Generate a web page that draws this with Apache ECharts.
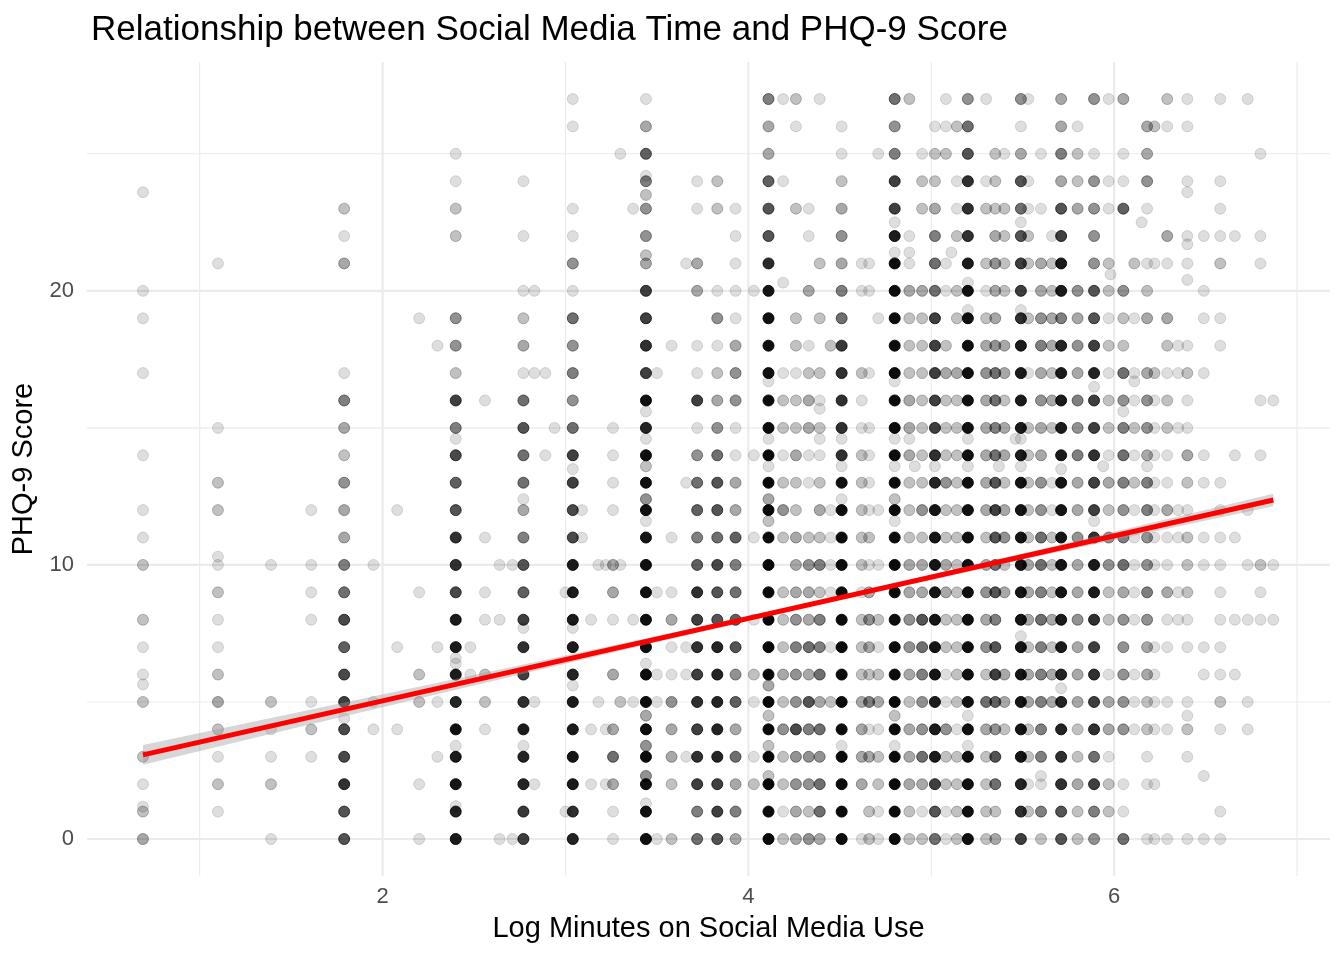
<!DOCTYPE html>
<html>
<head>
<meta charset="utf-8">
<script src="https://cdn.jsdelivr.net/npm/echarts@6/dist/echarts.min.js"></script>
<style>
html, body { margin: 0; padding: 0; background: #fff; }
#chart { width: 1344px; height: 960px; }
</style>
</head>
<body>
<div id="chart"></div>
<script>
// x = log minutes of social media use, columns of PHQ-9 counts (index = score 0..27)
var colX = [0.69, 1.10, 1.79, 2.40, 2.77, 3.04, 3.26, 3.44, 3.58, 3.72, 3.83, 3.93,
    4.11, 4.19, 4.26, 4.33, 4.39, 4.51, 4.62, 4.66, 4.71, 4.80, 4.88, 4.95, 5.02,
    5.08, 5.14, 5.20, 5.30, 5.35, 5.40, 5.49, 5.53, 5.60, 5.66, 5.71, 5.80, 5.89,
    5.97, 6.05, 6.11, 6.18, 6.22, 6.29, 6.40, 6.58];

var colCounts = [
    [3,2,1,2,0,2,1,1,2,0,2,1,1,0,1,0,0,1,0,1,1,0,0,0,0,0,0,0],              // 0.69
    [0,1,2,1,2,3,2,1,1,2,1,0,2,2,0,1,0,0,0,0,0,1,0,0,0,0,0,0],              // 1.10
    [8,8,12,9,9,10,9,7,9,6,5,3,3,4,2,3,5,1,0,0,0,3,1,2,0,0,0,0],            // 1.79
    [16,14,18,16,20,14,16,16,16,9,12,12,8,7,9,5,10,2,4,4,0,0,2,2,1,1,0,0],  // 2.40
    [10,11,14,14,16,12,10,12,10,7,8,5,3,6,6,8,6,1,3,2,1,0,1,0,1,0,0,0],     // 2.77
    [14,12,16,18,16,16,14,16,16,16,16,9,9,10,10,6,4,5,4,6,1,4,1,1,0,0,1,1], // 3.04
    [1,1,3,6,3,0,3,0,1,3,3,0,1,1,1,1,0,0,0,0,0,0,0,0,0,0,0,0],              // 3.26
    [20,20,20,22,22,22,22,20,20,20,20,18,20,20,20,14,20,10,12,10,10,3,4,4,5,7,3,1], // 3.44
    [2,0,2,3,3,4,1,1,3,1,0,1,0,0,0,0,0,0,1,0,0,0,0,0,0,0,0,0],              // 3.58
    [6,5,10,12,10,12,10,12,10,12,7,5,7,6,4,1,10,1,1,0,3,3,0,1,1,0,0,0],     // 3.72
    [8,10,10,14,14,14,14,14,8,8,9,6,8,8,6,4,3,2,1,4,1,0,0,2,2,0,0,0],       // 3.83
    [3,5,3,6,3,7,4,8,7,6,5,7,3,3,1,1,4,4,3,1,1,1,1,1,0,0,0,0],              // 3.93
    [22,22,24,24,24,24,24,24,24,24,24,24,24,24,22,22,22,20,20,20,18,13,8,8,7,3,3,5], // 4.11
    [2,1,2,2,4,2,3,2,2,2,0,2,4,2,1,2,2,1,0,0,0,0,0,0,1,0,0,1],              // 4.19
    [3,3,4,4,9,4,4,5,4,3,3,3,2,2,3,2,2,1,2,2,0,0,0,2,0,0,1,2],              // 4.26
    [4,2,4,4,5,8,3,6,3,3,4,2,0,1,1,3,3,2,1,0,3,0,1,1,0,0,0,0],              // 4.33
    [3,6,6,4,6,3,6,5,5,2,5,2,3,2,1,2,1,2,0,2,0,2,0,0,0,0,0,1],              // 4.39
    [22,22,22,22,22,22,22,22,22,22,22,22,22,20,12,12,12,12,11,6,5,3,4,3,2,1,1,0], // 4.51
    [1,0,3,3,3,3,2,2,2,1,2,2,2,2,2,1,1,2,0,0,1,1,0,0,0,0,0,0],              // 4.62
    [2,2,0,3,1,5,2,3,4,3,1,2,1,1,1,1,0,1,0,0,1,1,0,0,0,0,0,0],              // 4.66
    [1,1,2,2,1,3,2,1,2,0,1,0,1,0,0,0,0,0,0,1,0,0,0,0,0,1,0,0],              // 4.71
    [22,22,22,22,22,22,22,22,22,22,22,22,22,22,22,22,22,22,22,22,22,22,16,10,10,5,4,6], // 4.80
    [2,2,3,3,3,2,3,4,4,3,3,2,2,2,3,3,3,2,2,2,3,1,1,0,0,0,0,2],              // 4.88
    [2,1,3,6,4,4,5,6,8,3,3,2,4,2,2,2,2,2,2,2,3,0,0,2,2,1,0,0],              // 4.95
    [6,8,10,16,16,16,18,18,18,18,18,18,18,14,12,10,10,10,10,10,6,6,5,3,2,2,1,0], // 5.02
    [1,1,2,2,4,1,1,2,2,3,3,2,2,4,2,2,2,3,2,0,1,1,0,0,0,2,1,1],              // 5.08
    [2,2,2,2,1,2,2,2,2,2,2,2,2,2,2,2,2,3,0,2,2,0,2,1,1,0,2,0],              // 5.14
    [20,20,20,20,20,20,20,20,20,20,20,20,20,20,20,20,20,20,20,20,20,16,12,12,12,8,6,4], // 5.20
    [2,2,2,2,3,6,2,4,3,4,3,2,3,3,3,3,3,4,3,2,1,2,0,2,1,0,0,1],              // 5.30
    [3,2,6,8,4,7,10,8,5,8,6,8,10,8,6,5,6,6,4,3,3,4,3,2,2,2,0,0],            // 5.35
    [0,0,0,0,2,3,3,0,0,3,2,4,3,2,3,3,2,3,3,0,2,2,2,2,0,1,0,0],              // 5.40
    [10,12,14,18,18,18,18,18,18,18,18,18,18,18,16,16,16,16,16,12,10,10,8,6,8,3,1,4], // 5.49
    [0,2,1,2,2,3,3,2,3,3,3,2,2,2,2,2,0,1,0,2,0,2,2,1,1,0,0,1],              // 5.53
    [2,5,1,5,5,5,5,5,6,5,6,6,4,4,3,3,4,3,5,4,3,3,0,1,0,1,0,0],              // 5.60
    [0,0,0,0,0,3,3,2,3,2,2,2,1,1,0,2,3,2,3,3,2,2,1,0,0,0,0,0],              // 5.66
    [8,8,12,12,14,14,14,16,16,18,18,18,18,18,16,16,16,16,14,5,16,16,10,8,3,5,3,3], // 5.71
    [2,2,3,2,2,3,3,3,4,3,3,4,3,3,5,4,5,3,4,3,4,0,0,3,2,2,1,0],              // 5.80
    [4,5,10,6,12,10,12,10,12,16,16,12,10,10,12,10,10,14,10,8,8,4,4,4,4,1,0,4], // 5.89
    [0,2,2,1,3,3,1,0,2,2,4,4,2,3,1,2,2,1,2,1,2,2,0,1,1,0,0,1],              // 5.97
    [6,1,1,0,4,4,4,4,4,3,6,5,4,5,6,5,4,6,2,2,4,0,0,7,1,1,0,3],              // 6.05
    [0,0,0,0,1,1,1,0,1,1,1,1,1,2,1,2,1,1,0,1,0,2,0,0,0,0,0,0],              // 6.11
    [1,0,1,1,2,2,3,3,4,5,4,4,5,5,3,4,4,3,0,3,2,1,0,1,4,3,3,0],              // 6.18
    [1,0,1,0,1,1,1,1,0,0,1,1,1,1,1,1,1,2,0,0,0,1,0,0,0,0,2,0],              // 6.22
    [1,0,0,0,1,1,0,1,1,3,1,1,3,1,1,2,2,1,2,3,0,1,3,0,0,0,1,2],              // 6.29
    [1,0,0,1,2,1,0,1,1,2,2,2,1,2,3,1,1,2,1,0,0,1,1,0,1,0,1,1],              // 6.40
    [1,1,0,0,1,2,1,1,1,1,1,1,1,1,0,0,0,0,1,1,0,2,1,1,1,0,0,1]               // 6.58
];

// sparse points: [log minutes, PHQ-9, how many overlap]
var sparsePts = [
    [1.39,0,1],[1.39,2,2],[1.39,3,1],[1.39,4,1],[1.39,5,2],[1.39,10,1],
    [1.61,3,1],[1.61,4,2],[1.61,5,1],[1.61,8,1],[1.61,9,1],[1.61,10,1],[1.61,12,1],
    [1.95,4,1],[1.95,5,1],[1.95,10,1],
    [2.08,4,1],[2.08,7,1],[2.08,12,1],
    [2.20,0,1],[2.20,2,1],[2.20,5,2],[2.20,6,2],[2.20,9,1],[2.20,19,1],
    [2.30,3,1],[2.30,5,1],[2.30,7,1],[2.30,18,1],
    [2.48,6,1],[2.48,7,1],
    [2.56,4,1],[2.56,5,2],[2.56,6,2],[2.56,8,1],[2.56,9,1],[2.56,11,1],[2.56,16,1],
    [2.64,0,1],[2.64,8,1],[2.64,10,1],
    [2.71,0,1],[2.71,10,1],
    [2.83,2,1],[2.83,5,1],[2.83,17,1],[2.83,20,1],
    [2.89,14,1],[2.89,17,1],[2.94,15,1],[3.00,1,1],[3.00,9,1],
    [3.09,11,1],[3.09,12,1],[3.14,2,1],[3.14,4,1],[3.14,8,1],
    [3.18,5,1],[3.18,10,1],[3.22,2,1],[3.22,4,1],[3.22,10,1],
    [3.30,5,2],[3.30,10,1],[3.30,25,1],[3.37,5,1],[3.37,8,1],[3.37,23,1],
    [3.50,0,1],[3.50,5,1],[3.50,6,1],[3.50,9,1],[3.50,17,1],
    [3.66,3,1],[3.66,6,1],[3.66,7,1],[3.66,13,1],[3.66,21,1],
    [4.03,2,2],[4.03,3,1],[4.03,5,1],[4.03,6,2],[4.03,8,1],[4.03,11,1],[4.03,14,1],[4.03,20,1],
    [4.45,5,2],[4.45,7,1],[4.45,9,1],[4.45,10,1],[4.45,11,1],[4.45,12,1],[4.45,18,2],
    [6.35,8,1],[6.35,9,1],[6.35,11,1],[6.35,12,1],[6.35,15,1],[6.35,17,1],[6.35,18,1],
    [6.49,0,1],[6.49,6,1],[6.49,7,1],[6.49,10,1],[6.49,11,1],[6.49,13,1],[6.49,14,1],
    [6.49,17,1],[6.49,19,1],[6.49,20,1],[6.49,22,1],
    [6.66,6,1],[6.66,8,1],[6.66,11,1],[6.66,14,1],[6.66,22,1],
    [6.73,4,1],[6.73,5,1],[6.73,8,1],[6.73,10,1],[6.73,12,1],[6.73,27,1],
    [6.80,8,1],[6.80,9,1],[6.80,10,2],[6.80,14,1],[6.80,16,1],[6.80,21,1],[6.80,22,1],[6.80,25,1],
    [6.87,8,1],[6.87,10,1],[6.87,16,1]
];

// scores that are not whole numbers
var oddPts = [
    [0.69,23.6,1],[0.69,5.64,1],[0.69,1.18,1],[1.10,10.3,1],[1.79,4.4,1],
    [2.40,14.6,1],[2.40,6.6,1],[2.40,6.4,1],[2.40,3.4,1],[2.40,1.2,1],
    [2.77,12.4,1],[2.77,7.7,1],[2.77,3.4,1],[3.04,13.5,1],[3.04,7.7,1],[3.04,5.6,1],
    [3.44,24.2,1],[3.44,23.5,2],[3.44,21.3,2],[3.44,15.6,1],[3.44,14.6,1],[3.44,13.6,2],
    [3.44,12.4,4],[3.44,11.6,1],[3.44,6.4,1],[3.44,4.5,3],[3.44,3.4,4],[3.44,2.3,4],[3.44,1.3,1],
    [4.11,16.7,1],[4.11,14.6,1],[4.11,13.6,1],[4.11,12.4,3],[4.11,11.6,2],[4.11,5.6,3],
    [4.11,4.5,2],[4.11,3.4,2],[4.11,2.3,2],[4.19,20.3,1],[4.39,15.7,1],[4.39,14.6,1],
    [4.51,14.6,1],[4.51,13.6,1],[4.51,12.4,1],[4.51,3.4,1],
    [4.80,22.5,1],[4.80,21.4,1],[4.80,16.7,1],[4.80,14.6,1],[4.80,13.6,1],[4.80,12.4,2],
    [4.80,11.6,1],[4.80,4.5,2],[4.80,3.4,1],[4.88,21.4,1],[4.88,14.6,1],[4.91,13.6,1],
    [5.02,13.6,1],[5.11,21.4,1],[5.20,20.3,1],[5.20,19.3,1],[5.20,14.6,1],[5.20,13.6,1],
    [5.20,4.5,1],[5.20,3.4,1],[5.37,13.6,1],[5.46,14.6,1],[5.49,22.5,1],[5.49,19.3,1],
    [5.49,14.6,1],[5.49,13.6,1],[5.49,7.4,1],[5.60,2.3,1],[5.71,13.5,1],[5.71,5.5,1],
    [5.89,16.5,1],[5.89,11.6,1],[5.94,13.6,1],[5.98,20.6,1],[6.05,15.6,1],[6.11,16.7,1],
    [6.15,22.5,1],[6.18,13.6,1],[6.40,23.6,1],[6.40,21.7,1],[6.40,20.4,1],[6.40,4.5,1],[6.49,2.3,1]
];

// fitted line and its confidence band
var fitX = [0.69, 6.87];
var fitY = [3.07, 12.37];
var bandX = [0.69, 1.5, 2.5, 3.5, 4.5, 5.5, 6.2, 6.87];
var bandLo = [2.71, 4.01, 5.60, 7.19, 8.73, 10.20, 11.19, 12.14];
var bandHi = [3.43, 4.57, 5.98, 7.41, 8.87, 10.42, 11.53, 12.60];

var xLabels = [2, 4, 6];
var yLabels = [0, 10, 20];
var xGrid = [1, 2, 3, 4, 5, 6, 7];
var yGrid = [0, 5, 10, 15, 20, 25];

var FONT = "'Liberation Sans', Arial, Helvetica, sans-serif";
var pointAlpha = 0.13;

var chart = echarts.init(document.getElementById('chart'), null, { renderer: 'canvas' });

var pts = [];
function addPt(x, y, n) {
    if (!n) return;
    pts.push({
        value: [x, y],
        itemStyle: { opacity: 1 - Math.pow(1 - pointAlpha, n) }
    });
}
for (var i = 0; i < colX.length; i++) {
    for (var y = 0; y < colCounts[i].length; y++) {
        addPt(colX[i], y, colCounts[i][y]);
    }
}
sparsePts.forEach(function (p) { addPt(p[0], p[1], p[2]); });
oddPts.forEach(function (p) { addPt(p[0], p[1], p[2]); });

var fitData = [];
for (var k = 0; k < fitX.length; k++) fitData.push([fitX[k], fitY[k]]);

function renderGridV(params, api) {
    var cs = params.coordSys;
    var v = api.value(0);
    var px = api.coord([v, 0])[0];
    var major = xLabels.indexOf(v) >= 0;
    return {
        type: 'line',
        shape: { x1: px, y1: cs.y, x2: px, y2: cs.y + cs.height },
        style: { stroke: '#ebebeb', lineWidth: major ? 2.2 : 1.1 }
    };
}
function renderGridH(params, api) {
    var cs = params.coordSys;
    var v = api.value(1);
    var py = api.coord([1, v])[1];
    var major = yLabels.indexOf(v) >= 0;
    return {
        type: 'line',
        shape: { x1: cs.x, y1: py, x2: cs.x + cs.width, y2: py },
        style: { stroke: '#ebebeb', lineWidth: major ? 2.2 : 1.1 }
    };
}
function renderBand(params, api) {
    var poly = [];
    for (var j = 0; j < bandX.length; j++) poly.push(api.coord([bandX[j], bandHi[j]]));
    for (var j2 = bandX.length - 1; j2 >= 0; j2--) poly.push(api.coord([bandX[j2], bandLo[j2]]));
    return {
        type: 'polygon',
        shape: { points: poly },
        style: { fill: '#999999', opacity: 0.4 }
    };
}

var option = {
    animation: false,
    backgroundColor: '#ffffff',
    title: {
        text: 'Relationship between Social Media Time and PHQ-9 Score',
        left: 86,
        top: 8,
        textStyle: { fontFamily: FONT, fontSize: 35, fontWeight: 'normal', color: '#000000' }
    },
    grid: { left: 87, right: 14, top: 62, bottom: 84, containLabel: false },
    xAxis: {
        type: 'value',
        min: 0.384,
        max: 7.18,
        axisLine: { show: false },
        axisTick: { show: false },
        splitLine: { show: false },
        axisLabel: {
            customValues: xLabels,
            color: '#4d4d4d',
            fontSize: 22,
            fontFamily: FONT,
            margin: 10
        },
        name: 'Log Minutes on Social Media Use',
        nameLocation: 'middle',
        nameGap: 38,
        nameTextStyle: { fontFamily: FONT, fontSize: 29, color: '#000000' }
    },
    yAxis: {
        type: 'value',
        min: -1.35,
        max: 28.35,
        axisLine: { show: false },
        axisTick: { show: false },
        splitLine: { show: false },
        axisLabel: {
            customValues: yLabels,
            color: '#4d4d4d',
            fontSize: 22,
            fontFamily: FONT,
            margin: 13
        },
        name: 'PHQ-9 Score',
        nameLocation: 'middle',
        nameGap: 46,
        nameTextStyle: { fontFamily: FONT, fontSize: 29, color: '#000000' }
    },
    series: [
        {
            type: 'custom',
            z: 0,
            silent: true,
            renderItem: renderGridV,
            data: xGrid.map(function (v) { return [v, 0]; })
        },
        {
            type: 'custom',
            z: 0,
            silent: true,
            renderItem: renderGridH,
            data: yGrid.map(function (v) { return [1, v]; })
        },
        {
            type: 'scatter',
            z: 2,
            symbol: 'circle',
            symbolSize: 11,
            progressive: 0,
            silent: true,
            itemStyle: { color: '#000000', borderColor: '#000000', borderWidth: 1 },
            data: pts
        },
        {
            type: 'custom',
            z: 3,
            silent: true,
            renderItem: renderBand,
            data: [[bandX[0], bandLo[0]]]
        },
        {
            type: 'line',
            z: 4,
            silent: true,
            symbol: 'none',
            lineStyle: { color: '#ff0000', width: 5 },
            data: fitData
        }
    ]
};

chart.setOption(option);
</script>
</body>
</html>
